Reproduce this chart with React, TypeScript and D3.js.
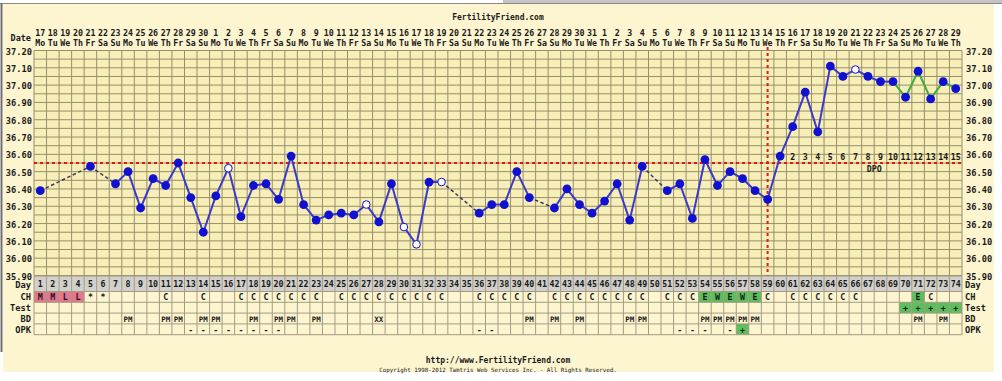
import React from "react";
import * as d3 from "d3";

const W = 1002;
const H = 381;

const days = d3.range(1, 75);
const dates = [
  17, 18, 19, 20, 21, 22, 23, 24, 25, 26, 27, 28, 29, 30,
  1, 2, 3, 4, 5, 6, 7, 8, 9, 10, 11, 12, 13, 14, 15, 16, 17, 18, 19, 20, 21, 22, 23, 24, 25, 26, 27, 28, 29, 30, 31,
  1, 2, 3, 4, 5, 6, 7, 8, 9, 10, 11, 12, 13, 14, 15, 16, 17, 18, 19, 20, 21, 22, 23, 24, 25, 26, 27, 28, 29,
];
const weekNames = ["Mo", "Tu", "We", "Th", "Fr", "Sa", "Su"];

// temperature per cycle day (null = no reading)
const temps: (number | null)[] = [
  36.39, null, null, null, 36.53, null, 36.43, 36.5, 36.29, 36.46,
  36.42, 36.55, 36.35, 36.15, 36.36, 36.52, 36.24, 36.42, 36.43, 36.34,
  36.59, 36.31, 36.22, 36.25, 36.26, 36.25, 36.31, 36.21, 36.43, 36.18,
  36.08, 36.44, 36.44, null, null, 36.26, 36.31, 36.31, 36.5, 36.35,
  null, 36.29, 36.4, 36.31, 36.26, 36.33, 36.43, 36.22, 36.53, null,
  36.39, 36.43, 36.23, 36.57, 36.42, 36.5, 36.46, 36.39, 36.34, 36.59,
  36.76, 36.96, 36.73, 37.11, 37.05, 37.09, 37.05, 37.02, 37.02, 36.93,
  37.08, 36.92, 37.02, 36.98,
];
const openDays = [16, 27, 30, 31, 33, 66];
const greenFromDay = 69;
const coverline = 36.55;
const ovulationDay = 59;
const dpoLabels = d3.range(1, 16);
const yTicks = [37.2, 37.1, 37.0, 36.9, 36.8, 36.7, 36.6, 36.5, 36.4, 36.3, 36.2, 36.1, 36.0, 35.9];

const chRow: [number, string, string][] = [
  [1, "M", "pink"], [2, "M", "pink"], [3, "L", "pink"], [4, "L", "pink"], [5, "*", ""], [6, "*", ""],
  [11, "C", ""], [14, "C", ""], [17, "C", ""], [18, "C", ""], [19, "C", ""], [20, "C", ""], [21, "C", ""], [22, "C", ""], [23, "C", ""],
  [25, "C", ""], [26, "C", ""], [27, "C", ""], [28, "C", ""], [29, "C", ""], [30, "C", ""], [31, "C", ""], [32, "C", ""], [33, "C", ""],
  [36, "C", ""], [37, "C", ""], [38, "C", ""], [39, "C", ""], [40, "C", ""],
  [42, "C", ""], [43, "C", ""], [44, "C", ""], [45, "C", ""], [46, "C", ""], [47, "C", ""], [48, "C", ""], [49, "C", ""],
  [51, "C", ""], [52, "C", ""], [53, "C", ""], [54, "E", "green"], [55, "W", "green"], [56, "E", "green"], [57, "W", "green"], [58, "E", "green"], [59, "C", ""],
  [61, "C", ""], [62, "C", ""], [63, "C", ""], [64, "C", ""], [65, "C", ""], [66, "C", ""],
  [71, "E", "green"], [72, "C", ""],
];
const testRow: [number, string, string][] = [
  [70, "+", "green"], [71, "+", "green"], [72, "+", "green"], [73, "+", "green"], [74, "+", "green"],
];
const bdRow: [number, string, string][] = [
  [8, "PM", ""], [11, "PM", ""], [12, "PM", ""], [14, "PM", ""], [15, "PM", ""], [18, "PM", ""], [20, "PM", ""], [21, "PM", ""], [23, "PM", ""],
  [28, "XX", ""], [40, "PM", ""], [42, "PM", ""], [44, "PM", ""], [48, "PM", ""], [49, "PM", ""],
  [54, "PM", ""], [55, "PM", ""], [56, "PM", ""], [57, "PM", ""], [58, "PM", ""], [71, "PM", ""], [73, "PM", ""],
];
const opkRow: [number, string, string][] = [
  [13, "-", ""], [14, "-", ""], [15, "-", ""], [16, "-", ""], [17, "-", ""], [18, "-", ""], [19, "-", ""], [20, "-", ""],
  [36, "-", ""], [37, "-", ""], [52, "-", ""], [53, "-", ""], [54, "-", ""], [56, "-", ""], [57, "+", "green"],
];
const tableRows = [
  { label: "CH", cells: chRow },
  { label: "Test", cells: testRow },
  { label: "BD", cells: bdRow },
  { label: "OPK", cells: opkRow },
];

const FONT = "'DejaVu Sans Mono', monospace";
const COL = {
  page: "#fdf5d0",
  plot: "#f8eeb8",
  grid: "#978f6a",
  tableLine: "#a39b80",
  dayRow: "#d2d0cc",
  pink: "#e8758f",
  green: "#5cbf5c",
  blue: "#1010d0",
  line: "#3a3ac8",
  dash: "#3a3a5e",
  greenLine: "#3aae3a",
  red: "#e01818",
  text: "#1a1a1a",
};

export default function App() {
  const L = 34, R = 962, T = 50.5, B = 275.5;
  const x = d3.scaleBand<number>().domain(days).range([L, R]).paddingInner(0).paddingOuter(0);
  const bw = x.bandwidth();
  const cx = (d: number) => (x(d) as number) + bw / 2;
  const y = d3.scaleLinear().domain([35.9, 37.2]).range([B, T]);

  const hGrid = d3.range(0, 27).map((i) => 35.9 + i * 0.05);
  const vGrid = days.map((d) => x(d) as number).concat([R]);

  const pts = days
    .map((d, i) => ({ d, t: temps[i] }))
    .filter((p) => p.t !== null) as { d: number; t: number }[];

  const segs: { a: { d: number; t: number }; b: { d: number; t: number }; kind: string }[] = [];
  for (let i = 0; i < pts.length - 1; i++) {
    const a = pts[i], b = pts[i + 1];
    let kind = "solid";
    if (b.d - a.d > 1) kind = "dash";
    else if (a.d >= greenFromDay) kind = "green";
    segs.push({ a, b, kind });
  }

  const rowTops = [291.5, 302.3, 313.1, 323.9, 334.7];
  const dayTop = 276, dayBot = 291.5;

  return (
    <svg width={W} height={H} style={{ position: "absolute", left: 0, top: 0, display: "block" }} fontFamily={FONT}>
      <rect x={0} y={0} width={W} height={H} fill="#ffffff" />
      <rect x={3} y={4} width={991} height={368} fill={COL.page} />
      <rect x={503} y={0} width={W - 503} height={3.5} fill="#c4c4c4" />
      <line x1={0} x2={W} y1={3.5} y2={3.5} stroke="#8a8a8a" strokeWidth={1} />
      <line x1={1.5} x2={1.5} y1={3} y2={352} stroke="#6e6e6e" strokeWidth={2} />

      {/* title */}
      <text x={498} y={17} textAnchor="middle" dominantBaseline="central" fontSize={8} fontWeight="bold" fill={COL.text}>
        FertilityFriend.com
      </text>

      {/* header dates */}
      <text x={31} y={38} textAnchor="end" dominantBaseline="central" fontSize={8.5} fontWeight="bold" fill={COL.text}>Date</text>
      {days.map((d, i) => (
        <g key={"h" + d}>
          <text x={cx(d)} y={33} textAnchor="middle" dominantBaseline="central" fontSize={8.3} fontWeight="bold" fill={COL.text}>
            {dates[i]}
          </text>
          <text x={cx(d)} y={43} textAnchor="middle" dominantBaseline="central" fontSize={8.3} fontWeight="bold" fill={COL.text}>
            {weekNames[i % 7]}
          </text>
        </g>
      ))}

      {/* plot */}
      <rect x={L} y={T} width={R - L} height={B - T} fill={COL.plot} />
      {hGrid.map((v, i) => (
        <line key={"hg" + i} x1={L} x2={R} y1={y(v)} y2={y(v)} stroke={COL.grid} strokeWidth={1} />
      ))}
      {vGrid.map((v, i) => (
        <line key={"vg" + i} x1={v} x2={v} y1={T} y2={B} stroke={COL.grid} strokeWidth={1} />
      ))}

      {/* y labels */}
      {yTicks.map((t) => (
        <g key={"yt" + t}>
          <text x={32} y={y(t) + 1} textAnchor="end" dominantBaseline="central" fontSize={8.7} fontWeight="bold" fill={COL.text}>
            {t.toFixed(2)}
          </text>
          <text x={966} y={y(t) + 1} textAnchor="start" dominantBaseline="central" fontSize={8.7} fontWeight="bold" fill={COL.text}>
            {t.toFixed(2)}
          </text>
        </g>
      ))}

      {/* DPO labels */}
      {dpoLabels.map((n) => (
        <text key={"dpo" + n} x={cx(ovulationDay + n)} y={157} textAnchor="middle" dominantBaseline="central" fontSize={8.3} fontWeight="bold" fill={COL.text}>
          {n}
        </text>
      ))}
      <text x={(cx(67) + cx(68)) / 2} y={169} textAnchor="middle" dominantBaseline="central" fontSize={8.3} fontWeight="bold" fill={COL.text}>DPO</text>

      {/* coverline and ovulation line */}
      <line x1={L} x2={R} y1={y(coverline)} y2={y(coverline)} stroke={COL.red} strokeWidth={2} strokeDasharray="3,3" />
      <line x1={cx(ovulationDay)} x2={cx(ovulationDay)} y1={47} y2={B + 1} stroke={COL.red} strokeWidth={2} strokeDasharray="3,3" />

      {/* temperature lines */}
      {segs.map((s, i) => (
        <line
          key={"s" + i}
          x1={cx(s.a.d)} y1={y(s.a.t)} x2={cx(s.b.d)} y2={y(s.b.t)}
          stroke={s.kind === "dash" ? COL.dash : s.kind === "green" ? COL.greenLine : COL.line}
          strokeWidth={s.kind === "dash" ? 1.5 : 2}
          strokeDasharray={s.kind === "dash" ? "3.5,2.5" : undefined}
        />
      ))}
      {pts.map((p) =>
        openDays.includes(p.d) ? (
          <circle key={"p" + p.d} cx={cx(p.d)} cy={y(p.t)} r={3.8} fill="#ffffff" stroke={COL.blue} strokeWidth={1} />
        ) : (
          <circle key={"p" + p.d} cx={cx(p.d)} cy={y(p.t)} r={4.4} fill={COL.blue} />
        )
      )}

      {/* table: day row */}
      <rect x={L} y={dayTop} width={R - L} height={dayBot - dayTop} fill={COL.dayRow} />
      {days.map((d) => (
        <text key={"dn" + d} x={cx(d)} y={(dayTop + dayBot) / 2 + 0.5} textAnchor="middle" dominantBaseline="central" fontSize={8.3} fontWeight="bold" fill={COL.text}>
          {d}
        </text>
      ))}
      <text x={31} y={284.5} textAnchor="end" dominantBaseline="central" fontSize={8.7} fontWeight="bold" fill={COL.text}>Day</text>
      <text x={965} y={284.5} textAnchor="start" dominantBaseline="central" fontSize={8.7} fontWeight="bold" fill={COL.text}>Day</text>

      {tableRows.map((row, ri) => {
        const top = rowTops[ri], bot = rowTops[ri + 1];
        const mid = (top + bot) / 2 + 0.5;
        return (
          <g key={"row" + ri}>
            {row.cells.map(([d, txt, col]) =>
              col ? (
                <rect key={"bg" + d} x={x(d) as number} y={top} width={bw} height={bot - top}
                  fill={col === "pink" ? COL.pink : COL.green} />
              ) : null
            )}
            {row.cells.map(([d, txt]) => (
              <text key={"tx" + d} x={cx(d)} y={mid} textAnchor="middle" dominantBaseline="central"
                fontSize={txt.length > 1 ? 7.5 : 8.3} fontWeight="bold" fill={COL.text}>
                {txt}
              </text>
            ))}
            <text x={31} y={mid} textAnchor="end" dominantBaseline="central" fontSize={8.7} fontWeight="bold" fill={COL.text}>{row.label}</text>
            <text x={965} y={mid} textAnchor="start" dominantBaseline="central" fontSize={8.7} fontWeight="bold" fill={COL.text}>{row.label}</text>
          </g>
        );
      })}
      {/* table grid */}
      {[dayTop, ...rowTops].map((v, i) => (
        <line key={"th" + i} x1={L} x2={R} y1={v} y2={v} stroke={COL.tableLine} strokeWidth={1} />
      ))}
      {vGrid.map((v, i) => (
        <line key={"tv" + i} x1={v} x2={v} y1={dayTop} y2={rowTops[4]} stroke={COL.tableLine} strokeWidth={1} />
      ))}

      {/* footer */}
      <text x={498} y={360} textAnchor="middle" dominantBaseline="central" fontSize={8} fontWeight="bold" fill={COL.text}>
        http://www.FertilityFriend.com
      </text>
      <text x={498} y={369.5} textAnchor="middle" dominantBaseline="central" fontSize={5.8} fill={COL.text}>
        Copyright 1998-2012 Tamtris Web Services Inc. - All Rights Reserved.
      </text>
    </svg>
  );
}
